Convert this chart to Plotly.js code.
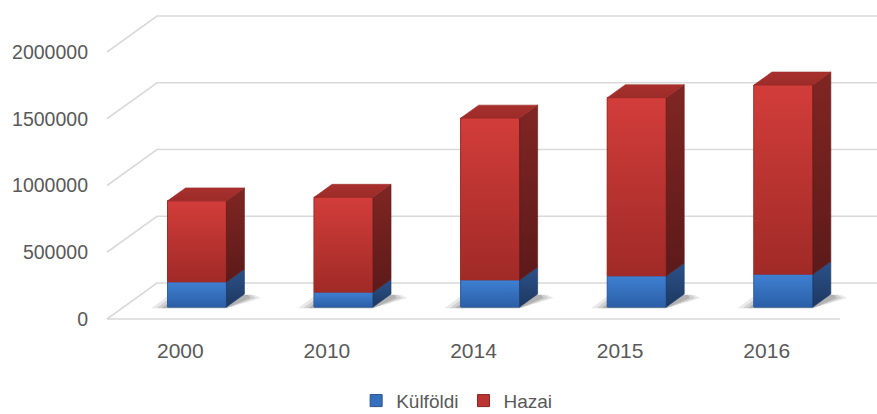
<!DOCTYPE html>
<html>
<head>
<meta charset="utf-8">
<script src="https://cdn.plot.ly/plotly-3.0.1.min.js"></script>
<style>html,body{margin:0;padding:0;background:#fff;}#chart{width:877px;height:414px;}</style>
</head>
<body>
<div id="chart"></div>
<script>
// ---- data ----
const years = ['2000', '2010', '2014', '2015', '2016'];
const kulfoldi = [187000, 110000, 202000, 232000, 245000];
const hazai = [608000, 712000, 1213000, 1336000, 1418000];
const yTickVals = [0, 500000, 1000000, 1500000, 2000000];
const yTickText = ['0', '500000', '1000000', '1500000', '2000000'];
const seriesNames = ['Külföldi', 'Hazai'];

// ---- 3D look (oblique projection) ----
const DX = 0.341, DY = 269700;      // full floor depth offset (x in category units, y in value units)
const F0 = 1 / 3, FB = 0.36;        // bar front depth fraction and bar depth fraction
const BW = 0.402;                   // bar width
const dx0 = DX * F0, dy0 = DY * F0; // front face offset
const dxb = DX * FB, dyb = DY * FB; // bar depth offset

const styles = {
  blue: {flat: '#3570bf', frontTop: '#3f80d2', frontBot: '#2b5fa7', sideTop: '#2c528a', sideBot: '#1d3861', top: '#36649f'},
  red:  {flat: '#bd3532', frontTop: '#d23d3a', frontBot: '#a02a27', sideTop: '#802623', sideBot: '#5c1a19', top: '#9c2c29'}
};
const FONT = "Arial, 'Liberation Sans', sans-serif";

const traces = [];
const shapes = [];

// grid lines (front-left diagonal + back wall horizontal)
yTickVals.forEach(v => {
  shapes.push({type: 'path', xref: 'x', yref: 'y', layer: 'below',
    path: `M${-0.5},${v} L${-0.5 + DX},${v + DY} L${4.5 + DX + 0.5},${v + DY}`,
    line: {color: '#d9d9d9', width: 1.6}});
});
// floor front edge
shapes.push({type: 'path', xref: 'x', yref: 'y', layer: 'below',
  path: `M${-0.5},0 L${years.length - 0.5},0`, line: {color: '#d9d9d9', width: 1.6}});

// shadows on the floor (soft: a few layered shapes)
years.forEach((yr, i) => {
  const xl = i + dx0 - BW / 2, xr = i + dx0 + BW / 2, b = dy0;
  [[0.11, 0.10], [0.075, 0.12], [0.04, 0.16]].forEach(([grow, op]) => {
    shapes.push({type: 'path', xref: 'x', yref: 'y', layer: 'below',
      path: `M${xl - grow},${b - 10000} L${xr},${b - 10000} L${xr + dxb + grow},${b + dyb - 30000} L${xr + dxb + grow * 0.6},${b + dyb - 5000} L${xl - grow + dxb},${b + dyb - 5000} Z`,
      fillcolor: `rgba(30,30,30,${op})`, line: {width: 0}});
  });
});

// legend / base bars for the front faces
const seriesVals = [kulfoldi, hazai];
const seriesStyle = [styles.blue, styles.red];
seriesVals.forEach((vals, s) => {
  const bases = vals.map((v, i) => dy0 + (s === 0 ? 0 : kulfoldi[i]));
  traces.push({
    type: 'bar', name: seriesNames[s],
    x: years.map((y, i) => i + dx0), y: vals, base: bases, width: BW,
    marker: {color: seriesStyle[s].flat, line: {width: 1, color: seriesStyle[s].sideTop}},
    hoverinfo: 'skip'
  });
});

function poly(xs, ys, c0, c1, y0, y1) {
  return {
    type: 'scatter', mode: 'lines', x: xs.concat([xs[0]]), y: ys.concat([ys[0]]),
    fill: 'toself', line: {width: 0.6, color: c0}, showlegend: false, hoverinfo: 'skip',
    fillcolor: c0,
    fillgradient: {type: 'vertical', start: y0, stop: y1, colorscale: [[0, c0], [1, c1]]}
  };
}

years.forEach((yr, i) => {
  const xl = i + dx0 - BW / 2, xr = i + dx0 + BW / 2;
  let bottom = dy0;
  seriesVals.forEach((vals, s) => {
    const st = seriesStyle[s];
    const top = bottom + vals[i];
    traces.push(poly([xl, xr, xr, xl], [bottom, bottom, top, top], st.frontBot, st.frontTop, bottom, top));
    traces.push(poly([xr, xr + dxb, xr + dxb, xr], [bottom, bottom + dyb, top + dyb, top], st.sideBot, st.sideTop, bottom, top + dyb));
    bottom = top;
  });
  const st = styles.red;
  traces.push(poly([xl, xr, xr + dxb, xl + dxb], [bottom, bottom, bottom + dyb, bottom + dyb], st.top, '#a8302d', bottom, bottom + dyb));
});

const layout = {
  width: 877, height: 414,
  margin: {l: 100, r: 0, t: 5, b: 84, autoexpand: false},
  paper_bgcolor: '#ffffff', plot_bgcolor: 'rgba(0,0,0,0)',
  barmode: 'overlay',
  showlegend: true,
  font: {family: FONT, color: '#595959'},
  xaxis: {
    range: [-0.5478, 4.7524], tickvals: years.map((y, i) => i), ticktext: years,
    showgrid: false, zeroline: false, showline: false, ticks: '',
    tickfont: {size: 21, color: '#595959', family: FONT}, ticklabelstandoff: 6, fixedrange: true
  },
  yaxis: {
    range: [-82397, 2352060], tickvals: yTickVals, ticktext: yTickText,
    showgrid: false, zeroline: false, showline: false, ticks: '',
    tickfont: {size: 19.5, color: '#595959', family: FONT},
    ticklabelstandoff: 11, fixedrange: true
  },
  legend: {
    orientation: 'h', x: 0.459, xanchor: 'center', xref: 'paper',
    y: 0.032, yanchor: 'middle', yref: 'container',
    font: {size: 19, color: '#595959', family: FONT}, traceorder: 'normal', itemclick: false, itemdoubleclick: false
  },
  shapes: shapes
};

Plotly.newPlot('chart', traces, layout, {displayModeBar: false, staticPlot: true});
</script>
</body>
</html>
